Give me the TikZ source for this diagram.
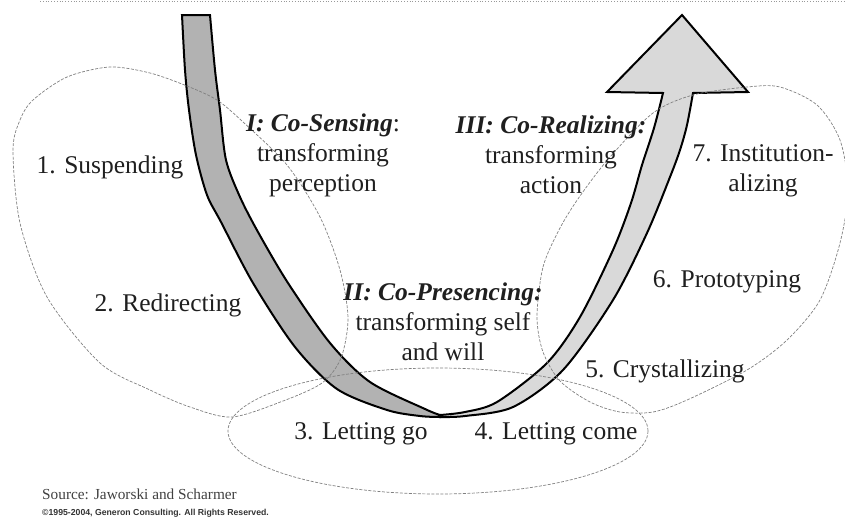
\documentclass[tikz,border=0pt]{standalone}
\usepackage{fontspec}
\setmainfont{Liberation Serif}
\newfontfamily\notefont{Liberation Sans}
\usetikzlibrary{positioning}

\tikzset{
  field/.style={draw=black!50, line width=0.7pt, dash pattern=on 3pt off 1.5pt},
  band/.style={draw=black, line width=2pt, line join=miter},
  stage/.style={anchor=base, text=black!88, inner sep=0pt},
  phase/.style={align=center, text=black!88, inner sep=0pt},
}

\begin{document}
\begin{tikzpicture}[x=1pt, y=-1pt, every node/.style={font=\fontsize{25.5}{30}\selectfont}]
  \useasboundingbox (0,0) rectangle (845,517);
  % dotted rule on top
  \draw[black!40, dotted, line width=0.8pt] (40,1) -- (845,1);
  % left limb of the U (going down)
  \draw[band, fill=black!30]
    plot[smooth] coordinates {(182,15) (185,70) (189,110) (196,155) (207,195) (221,222)
      (253,283) (295,347) (337,389) (387,410) (420,416) (440,417)}
    -- plot[smooth] coordinates {(440,415) (425,409) (370,382) (330,343) (288,283)
      (258,232) (240,197) (226,160) (220,110) (215,70) (210,15)}
    -- cycle;
  % right limb of the U with the arrow head (going up)
  \draw[band, fill=black!15]
    plot[smooth] coordinates {(440,415) (465,412) (497,402) (547,363) (580,317) (613,250)
      (631,203) (642,165) (654,128) (663,93)}
    -- (607,92) -- (682,15) -- (748,92) -- (693,93)
    -- plot[smooth] coordinates {(693,93) (687,125) (680,150) (670,177) (647,233)
      (613,300) (563,370) (513,407) (465,416) (440,417)}
    -- cycle;
  % dashed fields
  \draw[field] plot[smooth cycle] coordinates {(13,150) (20,120) (33,100) (67,77) (110,67)
    (150,73) (187,86) (217,100) (243,122) (287,165) (320,217) (340,270) (348,318)
    (341,358) (322,383) (283,401) (232,417) (190,407) (150,390) (100,363) (47,297) (20,223)};
  \draw[field] plot[smooth cycle] coordinates {(537,317) (543,267) (560,228) (580,196)
    (610,157) (653,113) (693,95) (747,87) (780,87) (817,105) (840,140) (848,190)
    (840,243) (820,300) (787,340) (747,370) (687,400) (653,412) (620,412) (590,402)
    (560,381) (543,352)};
  \draw[field] (438,431) ellipse [x radius=210, y radius=63];
  % the seven stages
  \node[stage] (susp) at (110,173) {1. Suspending};
  \node[stage] (redir) at (168,311) {2. Redirecting};
  \node[stage] (letgo) at (361,439) {3. Letting go};
  \node[stage] (letcome) at (556,439) {4. Letting come};
  \node[stage] (cryst) at (665,377) {5. Crystallizing};
  \node[stage] (proto) at (727,287) {6. Prototyping};
  \node[phase] (inst) at (763,171) {7. Institution-\\alizing};
  % the three movements
  \node[phase] (sens) at (323,155) {\textbf{\textit{I: Co-Sensing}}:\\transforming\\perception};
  \node[phase] (pres) at (443,322) {\textbf{\textit{II: Co-Presencing:}}\\transforming self\\and will};
  \node[phase] (real) at (551,155) {\textbf{\textit{III: Co-Realizing:}}\\transforming\\action};
  % source
  \node[anchor=base west, inner sep=0pt, text=black!75, font=\fontsize{15.3}{18}\selectfont]
    (src) at (42,499) {Source: Jaworski and Scharmer};
  \node[anchor=base west, inner sep=0pt, text=black!80, font=\notefont\bfseries\fontsize{8.7}{10}\selectfont]
    (copy) at (42,515) {©1995-2004, Generon Consulting. All Rights Reserved.};
\end{tikzpicture}
\end{document}
